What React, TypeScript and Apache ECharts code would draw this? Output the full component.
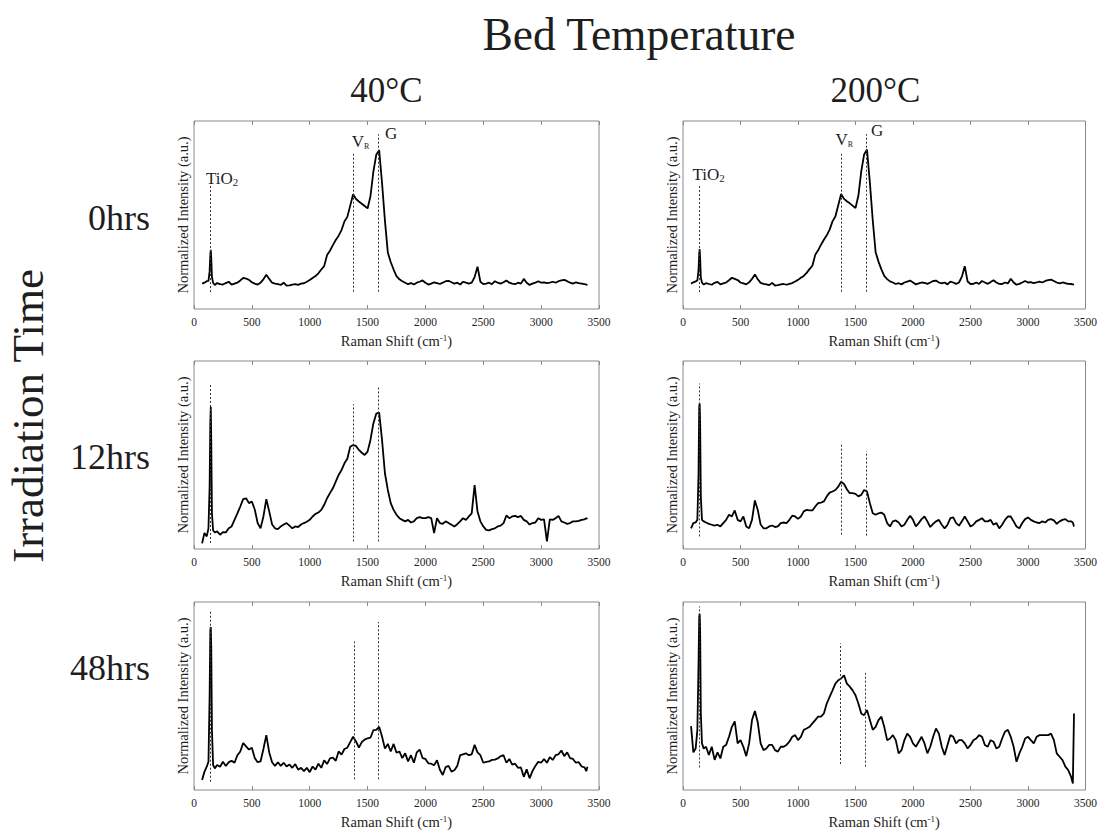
import React, { useEffect, useRef } from 'react';
import * as echarts from 'echarts';

// ---------- DATA ----------
const ramanShift = [70, 90, 110, 125, 135, 141, 145, 149, 155, 165, 180, 200,
  225, 250, 275, 300, 325, 350, 375, 400, 425, 450,
  475, 500, 525, 550, 575, 600, 625, 650, 675, 700,
  725, 750, 775, 800, 825, 850, 875, 900, 925, 950,
  975, 1000, 1025, 1050, 1075, 1100, 1125, 1150, 1175, 1200,
  1225, 1250, 1275, 1300, 1325, 1350, 1375, 1400, 1425, 1450,
  1475, 1500, 1525, 1550, 1575, 1600, 1625, 1650, 1675, 1700,
  1725, 1750, 1775, 1800, 1825, 1850, 1875, 1900, 1925, 1950,
  1975, 2000, 2025, 2050, 2075, 2100, 2125, 2150, 2175, 2200,
  2225, 2250, 2275, 2300, 2325, 2350, 2375, 2400, 2425, 2450,
  2475, 2500, 2525, 2550, 2575, 2600, 2625, 2650, 2675, 2700,
  2725, 2750, 2775, 2800, 2825, 2850, 2875, 2900, 2925, 2950,
  2975, 3000, 3025, 3050, 3075, 3100, 3125, 3150, 3175, 3200,
  3225, 3250, 3275, 3300, 3325, 3350, 3375,
  3390, 3400];

const int40_0h = [0.135, 0.14, 0.148, 0.15, 0.2, 0.29, 0.315, 0.27, 0.17, 0.14, 0.128, 0.138,
  0.132, 0.13, 0.138, 0.145, 0.13, 0.135, 0.14, 0.152, 0.165, 0.162,
  0.155, 0.142, 0.135, 0.13, 0.14, 0.158, 0.182, 0.16, 0.14, 0.135,
  0.132, 0.128, 0.14, 0.124, 0.126, 0.13, 0.132, 0.128, 0.135, 0.137,
  0.145, 0.154, 0.165, 0.175, 0.19, 0.21, 0.228, 0.287, 0.31, 0.34,
  0.367, 0.39, 0.42, 0.465, 0.49, 0.55, 0.61, 0.585, 0.572, 0.56,
  0.548, 0.535, 0.6, 0.73, 0.82, 0.845, 0.67, 0.47, 0.3, 0.25,
  0.21, 0.175, 0.158, 0.148, 0.14, 0.132, 0.138, 0.13, 0.14, 0.145,
  0.152, 0.14, 0.13, 0.135, 0.142, 0.138, 0.133, 0.14, 0.148, 0.15,
  0.142, 0.135, 0.14, 0.13, 0.145, 0.14, 0.135, 0.14, 0.17, 0.225,
  0.145, 0.132, 0.135, 0.14, 0.132, 0.148, 0.14, 0.135, 0.142, 0.152,
  0.14, 0.135, 0.132, 0.14, 0.135, 0.16, 0.14, 0.128, 0.135, 0.14,
  0.148, 0.14, 0.142, 0.138, 0.14, 0.145, 0.14, 0.148, 0.152, 0.155,
  0.148, 0.14, 0.135, 0.142, 0.138, 0.135, 0.132,
  0.13, 0.128];

const int200_0h = [0.135, 0.142, 0.147, 0.152, 0.205, 0.295, 0.318, 0.27, 0.168, 0.14, 0.13, 0.137,
  0.133, 0.129, 0.139, 0.144, 0.131, 0.136, 0.141, 0.153, 0.166, 0.16,
  0.154, 0.141, 0.136, 0.131, 0.142, 0.16, 0.184, 0.158, 0.139, 0.134,
  0.131, 0.127, 0.139, 0.125, 0.127, 0.131, 0.133, 0.129, 0.134, 0.138,
  0.146, 0.155, 0.166, 0.176, 0.192, 0.212, 0.23, 0.288, 0.312, 0.342,
  0.368, 0.392, 0.422, 0.466, 0.492, 0.552, 0.612, 0.586, 0.573, 0.562,
  0.55, 0.537, 0.602, 0.732, 0.822, 0.848, 0.672, 0.472, 0.302, 0.252,
  0.211, 0.176, 0.159, 0.147, 0.141, 0.133, 0.137, 0.131, 0.141, 0.146,
  0.151, 0.141, 0.131, 0.136, 0.141, 0.139, 0.134, 0.141, 0.149, 0.151,
  0.141, 0.136, 0.141, 0.131, 0.146, 0.141, 0.134, 0.141, 0.172, 0.228,
  0.146, 0.133, 0.134, 0.141, 0.133, 0.149, 0.141, 0.134, 0.143, 0.153,
  0.141, 0.134, 0.133, 0.141, 0.136, 0.161, 0.141, 0.129, 0.134, 0.141,
  0.149, 0.141, 0.143, 0.137, 0.141, 0.146, 0.141, 0.149, 0.153, 0.156,
  0.149, 0.141, 0.136, 0.141, 0.137, 0.134, 0.133,
  0.131, 0.129];

const int40_12h = [0.03, 0.085, 0.067, 0.11, 0.33, 0.67, 0.756, 0.58, 0.19, 0.1, 0.088, 0.094,
  0.076, 0.09, 0.088, 0.11, 0.12, 0.155, 0.19, 0.226, 0.265, 0.27,
  0.244, 0.253, 0.21, 0.138, 0.11, 0.173, 0.265, 0.2, 0.13, 0.11,
  0.106, 0.12, 0.13, 0.138, 0.124, 0.11, 0.12, 0.117, 0.13, 0.138,
  0.145, 0.155, 0.173, 0.187, 0.194, 0.208, 0.235, 0.27, 0.297, 0.323,
  0.358, 0.394, 0.42, 0.456, 0.48, 0.544, 0.553, 0.548, 0.527, 0.512,
  0.5, 0.518, 0.58, 0.668, 0.72, 0.725, 0.58, 0.403, 0.314, 0.244,
  0.208, 0.182, 0.164, 0.155, 0.147, 0.155, 0.141, 0.147, 0.164, 0.17,
  0.164, 0.164, 0.17, 0.164, 0.085, 0.164, 0.138, 0.134, 0.147, 0.138,
  0.129, 0.12, 0.132, 0.147, 0.164, 0.155, 0.173, 0.19, 0.34, 0.2,
  0.147, 0.12, 0.102, 0.099, 0.106, 0.11, 0.12, 0.124, 0.138, 0.178,
  0.164, 0.173, 0.176, 0.17, 0.176, 0.155, 0.147, 0.13, 0.138, 0.141,
  0.164, 0.155, 0.158, 0.04, 0.158, 0.155, 0.164, 0.176, 0.147, 0.141,
  0.134, 0.138, 0.147, 0.147, 0.15, 0.155, 0.158,
  0.164, 0.16];

const int200_12h = [0.11, 0.138, 0.141, 0.155, 0.4, 0.756, 0.774, 0.668, 0.28, 0.155, 0.147, 0.141,
  0.134, 0.129, 0.124, 0.129, 0.12, 0.138, 0.155, 0.182, 0.173, 0.205,
  0.155, 0.147, 0.173, 0.12, 0.11, 0.155, 0.258, 0.208, 0.13, 0.11,
  0.11, 0.12, 0.125, 0.117, 0.12, 0.138, 0.141, 0.138, 0.155, 0.177,
  0.173, 0.16, 0.173, 0.2, 0.208, 0.205, 0.205, 0.226, 0.244, 0.247,
  0.253, 0.28, 0.3, 0.306, 0.314, 0.332, 0.358, 0.346, 0.318, 0.297,
  0.297, 0.293, 0.28, 0.288, 0.314, 0.306, 0.244, 0.19, 0.182, 0.19,
  0.194, 0.182, 0.138, 0.12, 0.147, 0.152, 0.141, 0.12, 0.129, 0.155,
  0.177, 0.155, 0.12, 0.138, 0.159, 0.173, 0.147, 0.117, 0.134, 0.147,
  0.155, 0.129, 0.11, 0.129, 0.164, 0.168, 0.138, 0.124, 0.147, 0.173,
  0.147, 0.12, 0.129, 0.147, 0.155, 0.164, 0.147, 0.147, 0.155, 0.129,
  0.138, 0.11, 0.129, 0.155, 0.173, 0.173, 0.147, 0.12, 0.11, 0.138,
  0.159, 0.168, 0.155, 0.147, 0.141, 0.138, 0.147, 0.141, 0.155, 0.159,
  0.152, 0.134, 0.147, 0.155, 0.159, 0.147, 0.147,
  0.141, 0.12];

const int40_48h = [0.053, 0.097, 0.124, 0.15, 0.5, 0.85, 0.867, 0.76, 0.32, 0.133, 0.115, 0.133,
  0.124, 0.15, 0.128, 0.148, 0.155, 0.145, 0.185, 0.205, 0.25, 0.232,
  0.215, 0.225, 0.17, 0.148, 0.152, 0.218, 0.292, 0.2, 0.148, 0.128,
  0.148, 0.128, 0.145, 0.125, 0.135, 0.118, 0.138, 0.108, 0.118, 0.1,
  0.118, 0.095, 0.125, 0.108, 0.14, 0.118, 0.158, 0.138, 0.168, 0.172,
  0.155, 0.205, 0.188, 0.218, 0.225, 0.255, 0.283, 0.258, 0.225, 0.255,
  0.268, 0.275, 0.278, 0.318, 0.32, 0.336, 0.285, 0.22, 0.245, 0.205,
  0.245, 0.198, 0.205, 0.17, 0.195, 0.152, 0.185, 0.145, 0.2, 0.215,
  0.17, 0.165, 0.142, 0.14, 0.132, 0.158, 0.108, 0.08, 0.122, 0.128,
  0.098, 0.105, 0.128, 0.185, 0.19, 0.195, 0.185, 0.19, 0.24, 0.2,
  0.185, 0.145, 0.15, 0.152, 0.16, 0.162, 0.168, 0.18, 0.185, 0.145,
  0.165, 0.135, 0.14, 0.118, 0.12, 0.07, 0.11, 0.062, 0.1, 0.128,
  0.15, 0.145, 0.165, 0.145, 0.175, 0.16, 0.185, 0.19, 0.21, 0.18,
  0.2, 0.17, 0.165, 0.145, 0.148, 0.125, 0.12,
  0.1, 0.124];

const int200_48h = [0.34, 0.2, 0.22, 0.32, 0.67, 0.92, 0.938, 0.85, 0.41, 0.248, 0.22, 0.23,
  0.186, 0.23, 0.16, 0.2, 0.168, 0.23, 0.24, 0.283, 0.336, 0.365,
  0.248, 0.265, 0.23, 0.18, 0.248, 0.372, 0.42, 0.36, 0.248, 0.212,
  0.221, 0.24, 0.24, 0.212, 0.204, 0.23, 0.23, 0.24, 0.257, 0.283,
  0.292, 0.265, 0.283, 0.32, 0.327, 0.336, 0.354, 0.372, 0.39, 0.39,
  0.407, 0.46, 0.495, 0.53, 0.566, 0.584, 0.593, 0.61, 0.566, 0.55,
  0.53, 0.504, 0.46, 0.407, 0.398, 0.425, 0.372, 0.32, 0.336, 0.372,
  0.39, 0.336, 0.265, 0.274, 0.292, 0.265, 0.195, 0.212, 0.265, 0.3,
  0.283, 0.248, 0.23, 0.257, 0.283, 0.248, 0.195, 0.23, 0.283, 0.327,
  0.3, 0.23, 0.186, 0.239, 0.292, 0.283, 0.248, 0.265, 0.265, 0.248,
  0.221, 0.239, 0.265, 0.274, 0.292, 0.283, 0.239, 0.23, 0.265, 0.257,
  0.221, 0.23, 0.274, 0.31, 0.32, 0.283, 0.23, 0.15, 0.195, 0.23,
  0.274, 0.283, 0.265, 0.248, 0.283, 0.292, 0.292, 0.292, 0.292, 0.3,
  0.265, 0.195, 0.177, 0.159, 0.124, 0.106, 0.07,
  0.035, 0.407];

// reference lines: [shift, yFrom, yTo] for TiO2, V_R, G
const refLines40_0h = [[144, 0.09, 0.66], [1375, 0.092, 0.83], [1590, 0.092, 0.93]];
const refLines200_0h = [[144, 0.09, 0.66], [1375, 0.092, 0.83], [1590, 0.092, 0.93]];
const refLines40_12h = [[144, 0.032, 0.883], [1375, 0.04, 0.77], [1590, 0.04, 0.87]];
const refLines200_12h = [[144, 0.067, 0.88], [1375, 0.076, 0.558], [1590, 0.071, 0.52]];
const refLines40_48h = [[144, 0.044, 0.95], [1388, 0.057, 0.79], [1595, 0.057, 0.894]];
const refLines200_48h = [[144, 0.12, 0.977], [1370, 0.138, 0.78], [1585, 0.124, 0.623]];

// peak labels (row 1 only): [shift, y, text]
const peakLabels40 = [[104, 0.695, 'TiO|2'], [1363, 0.89, 'V|R'], [1650, 0.936, 'G|']];
const peakLabels200 = [[82, 0.715, 'TiO|2'], [1326, 0.9, 'V|R'], [1635, 0.948, 'G|']];

const colTitles = ['40°C', '200°C'];
const rowTitles = ['0hrs', '12hrs', '48hrs'];
const xTicks = { min: 0, max: 3500, interval: 500 };

// ---------- LAYOUT ----------
const FONT = "'Liberation Serif', 'Times New Roman', Times, serif";
const COL_LEFT = [194, 683];
const ROW_TOP = [121, 361, 602];
const GW = 405;
const GH = 188;
const FRAME = '#8a8a8a';
const TXT = '#1e1e1e';

const panels = [
  { data: int40_0h, col: 0, row: 0, lines: refLines40_0h, labels: peakLabels40 },
  { data: int200_0h, col: 1, row: 0, lines: refLines200_0h, labels: peakLabels200 },
  { data: int40_12h, col: 0, row: 1, lines: refLines40_12h, labels: [] },
  { data: int200_12h, col: 1, row: 1, lines: refLines200_12h, labels: [] },
  { data: int40_48h, col: 0, row: 2, lines: refLines40_48h, labels: [] },
  { data: int200_48h, col: 1, row: 2, lines: refLines200_48h, labels: [] },
];

function buildOption() {
  const grid: any[] = [];
  const xAxis: any[] = [];
  const yAxis: any[] = [];
  const series: any[] = [];

  panels.forEach((p, i) => {
    grid.push({
      left: COL_LEFT[p.col], top: ROW_TOP[p.row], width: GW, height: GH,
      show: true, borderColor: FRAME, borderWidth: 1, backgroundColor: 'transparent',
    });
    xAxis.push({
      type: 'value', gridIndex: i, position: 'bottom', ...xTicks,
      axisLine: { show: false },
      axisTick: { show: true, inside: true, length: 4, lineStyle: { color: FRAME } },
      axisLabel: { fontFamily: FONT, fontSize: 11.5, color: TXT, margin: 7, formatter: (v: number) => String(v) },
      splitLine: { show: false },
      name: '{a|Raman Shift (cm}{b|-1}{a|)}',
      nameLocation: 'middle', nameGap: 24,
      nameTextStyle: {
        rich: {
          a: { fontFamily: FONT, fontSize: 14.5, color: TXT, lineHeight: 16 },
          b: { fontFamily: FONT, fontSize: 9, color: TXT, lineHeight: 6, verticalAlign: 'top' },
        },
      },
    });
    xAxis.push({
      type: 'value', gridIndex: i, position: 'top', ...xTicks,
      axisLine: { show: false },
      axisTick: { show: true, inside: true, length: 4, lineStyle: { color: FRAME } },
      axisLabel: { show: false },
      splitLine: { show: false },
    });
    yAxis.push({
      type: 'value', gridIndex: i, min: 0, max: 1,
      axisLine: { show: false }, axisTick: { show: false }, axisLabel: { show: false },
      splitLine: { show: false },
      name: 'Normalized Intensity (a.u.)', nameLocation: 'middle', nameGap: 4,
      nameTextStyle: { fontFamily: FONT, fontSize: 14.5, color: TXT },
    });
    series.push({
      type: 'line', xAxisIndex: 2 * i, yAxisIndex: i,
      data: ramanShift.map((x, k) => [x, p.data[k]]),
      showSymbol: false, symbol: 'none', silent: true,
      lineStyle: { color: '#000', width: 1.8 },
      markLine: {
        silent: true, symbol: ['none', 'none'], animation: false,
        label: { show: false },
        lineStyle: { color: '#333', type: [2, 2], width: 1 },
        data: p.lines.map((l) => [{ coord: [l[0], l[1]] }, { coord: [l[0], l[2]] }]),
      },
      markPoint: {
        silent: true, symbol: 'circle', symbolSize: 0, animation: false,
        itemStyle: { color: 'transparent' },
        data: p.labels.map((l: any) => {
          const [main, sub] = String(l[2]).split('|');
          return {
            coord: [l[0], l[1]],
            label: {
              show: true, position: 'inside', align: 'left', verticalAlign: 'middle',
              formatter: sub ? `{m|${main}}{${main === 'V' ? 'r' : 's'}|${sub}}` : `{m|${main}}`,
              rich: {
                m: { fontFamily: FONT, fontSize: 17, color: TXT, lineHeight: 18 },
                s: { fontFamily: FONT, fontSize: 11, color: TXT, lineHeight: 11, verticalAlign: 'bottom' },
                r: { fontFamily: FONT, fontSize: 8, color: TXT, lineHeight: 2, verticalAlign: 'bottom' },
              },
            },
          };
        }),
      },
    });
  });

  const graphic: any[] = [
    { type: 'text', x: 639, y: 34, style: { text: 'Bed Temperature', fontFamily: FONT, fontSize: 45.5, fill: TXT, align: 'center', verticalAlign: 'middle', textAlign: 'center', textVerticalAlign: 'middle' } },
    { type: 'text', x: 28, y: 416, rotation: Math.PI / 2, style: { text: 'Irradiation Time', fontFamily: FONT, fontSize: 45, fill: TXT, align: 'center', verticalAlign: 'middle', textAlign: 'center', textVerticalAlign: 'middle' } },
  ];
  colTitles.forEach((t, c) => {
    graphic.push({ type: 'text', x: COL_LEFT[c] + GW / 2 - 10, y: 90, style: { text: t, fontFamily: FONT, fontSize: 35, fill: TXT, align: 'center', verticalAlign: 'middle', textAlign: 'center', textVerticalAlign: 'middle' } });
  });
  const rowY = [218, 457, 668];
  rowTitles.forEach((t, r) => {
    graphic.push({ type: 'text', x: 150, y: rowY[r], style: { text: t, fontFamily: FONT, fontSize: 36, fill: TXT, align: 'right', verticalAlign: 'middle', textAlign: 'right', textVerticalAlign: 'middle' } });
  });

  return { animation: false, backgroundColor: '#ffffff', grid, xAxis, yAxis, series, graphic };
}

export default function App() {
  const ref = useRef<HTMLDivElement>(null);
  useEffect(() => {
    if (!ref.current) return;
    const chart = echarts.init(ref.current, undefined, { renderer: 'svg' });
    chart.setOption(buildOption() as any);
    return () => chart.dispose();
  }, []);
  return <div ref={ref} style={{ position: 'absolute', left: 0, top: 0, width: 1100, height: 835 }} />;
}
